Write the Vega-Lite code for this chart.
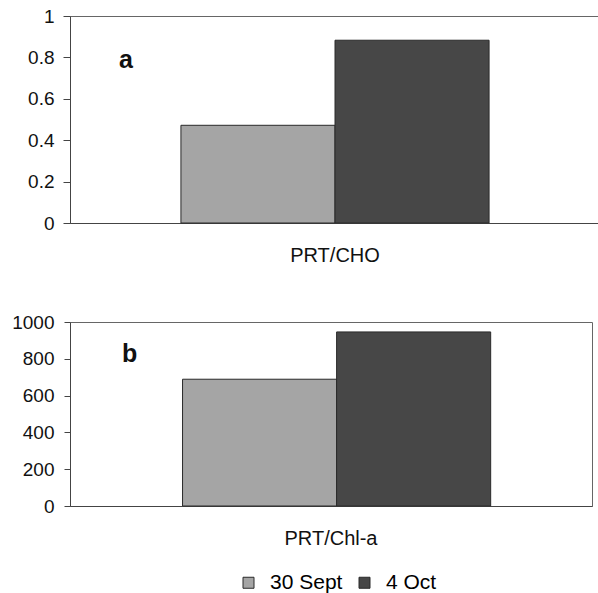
{
  "$schema": "https://vega.github.io/schema/vega-lite/v6.json",
  "background": "white",
  "padding": {"left": 0, "top": 6, "right": 0, "bottom": 0},
  "spacing": 46,
  "datasets": {
    "a": [
      {"ratio": "PRT/CHO", "date": "30 Sept", "value": 0.472},
      {"ratio": "PRT/CHO", "date": "4 Oct", "value": 0.883}
    ],
    "b": [
      {"ratio": "PRT/Chl-a", "date": "30 Sept", "value": 689},
      {"ratio": "PRT/Chl-a", "date": "4 Oct", "value": 946}
    ],
    "la": [{"ratio": "PRT/CHO", "label": "a", "value": 0.75}],
    "lb": [{"ratio": "PRT/Chl-a", "label": "b", "value": 783}]
  },
  "config": {
    "font": "Liberation Sans",
    "view": {"stroke": "#666", "strokeWidth": 1},
    "axis": {"grid": false, "domainColor": "#444", "tickColor": "#444", "labelColor": "#111", "labelFont": "Liberation Sans"},
    "legend": {"labelFont": "Liberation Sans"}
  },
  "vconcat": [
    {
      "width": 530,
      "height": 207,
      "layer": [
        {
          "data": {"name": "a"},
          "mark": {"type": "bar", "stroke": "#2a2a2a", "strokeWidth": 1},
          "encoding": {
            "x": {"field": "ratio", "type": "nominal", "scale": {"paddingInner": 0, "paddingOuter": 0.36},
              "axis": {"title": null, "labelAngle": 0, "ticks": false, "labelFontSize": 20, "labelPadding": 22}},
            "xOffset": {"field": "date", "type": "nominal", "sort": ["30 Sept", "4 Oct"]},
            "y": {"field": "value", "type": "quantitative", "scale": {"domain": [0, 1]},
              "axis": {"title": null, "values": [0, 0.2, 0.4, 0.6, 0.8, 1], "format": "~g", "labelOverlap": false, "labelFontSize": 19, "tickSize": 7, "labelPadding": 9, "minExtent": 69, "maxExtent": 69}},
            "color": {"field": "date", "type": "nominal", "sort": ["30 Sept", "4 Oct"],
              "scale": {"domain": ["30 Sept", "4 Oct"], "range": ["#a5a5a5", "#474747"]},
              "legend": {"orient": "none", "direction": "horizontal", "title": null, "padding": 0, "legendX": 168, "legendY": 556, "symbolType": "square", "symbolSize": 121, "symbolStrokeColor": "#333", "symbolStrokeWidth": 1, "labelFontSize": 21, "labelOffset": 11, "columnPadding": 11}}
          }
        },
        {
          "data": {"name": "la"},
          "mark": {"type": "text", "fontSize": 25, "fontWeight": "bold", "baseline": "alphabetic", "dx": -55, "color": "#111"},
          "encoding": {
            "x": {"field": "ratio", "type": "nominal", "bandPosition": 0,
              "axis": {"title": null, "labelAngle": 0, "ticks": false, "labelFontSize": 20, "labelPadding": 22}},
            "y": {"field": "value", "type": "quantitative",
              "axis": {"title": null, "values": [0, 0.2, 0.4, 0.6, 0.8, 1], "format": "~g", "labelOverlap": false, "labelFontSize": 19, "tickSize": 7, "labelPadding": 9, "minExtent": 69, "maxExtent": 69}},
            "text": {"field": "label"}
          }
        }
      ]
    },
    {
      "width": 522,
      "height": 184,
      "layer": [
        {
          "data": {"name": "b"},
          "mark": {"type": "bar", "stroke": "#2a2a2a", "strokeWidth": 1},
          "encoding": {
            "x": {"field": "ratio", "type": "nominal", "scale": {"paddingInner": 0, "paddingOuter": 0.379},
              "axis": {"title": null, "labelAngle": 0, "ticks": false, "labelFontSize": 20, "labelPadding": 22}},
            "xOffset": {"field": "date", "type": "nominal", "sort": ["30 Sept", "4 Oct"]},
            "y": {"field": "value", "type": "quantitative", "scale": {"domain": [0, 1000]},
              "axis": {"title": null, "values": [0, 200, 400, 600, 800, 1000], "format": "d", "labelOverlap": false, "labelFontSize": 19, "tickSize": 6, "labelPadding": 10, "minExtent": 69, "maxExtent": 69}},
            "color": {"field": "date", "type": "nominal", "sort": ["30 Sept", "4 Oct"],
              "scale": {"domain": ["30 Sept", "4 Oct"], "range": ["#a5a5a5", "#474747"]}}
          }
        },
        {
          "data": {"name": "lb"},
          "mark": {"type": "text", "fontSize": 25, "fontWeight": "bold", "baseline": "alphabetic", "dx": -53, "color": "#111"},
          "encoding": {
            "x": {"field": "ratio", "type": "nominal", "bandPosition": 0,
              "axis": {"title": null, "labelAngle": 0, "ticks": false, "labelFontSize": 20, "labelPadding": 22}},
            "y": {"field": "value", "type": "quantitative",
              "axis": {"title": null, "values": [0, 200, 400, 600, 800, 1000], "format": "d", "labelOverlap": false, "labelFontSize": 19, "tickSize": 6, "labelPadding": 10, "minExtent": 69, "maxExtent": 69}},
            "text": {"field": "label"}
          }
        }
      ]
    }
  ]
}
